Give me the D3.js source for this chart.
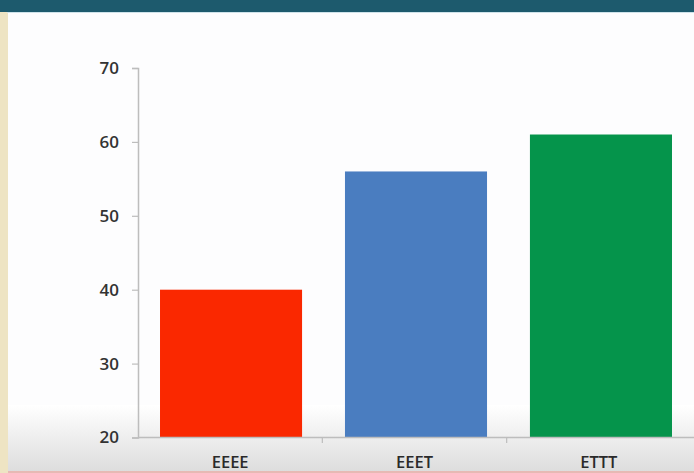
<!DOCTYPE html>
<html><head><meta charset="utf-8">
<script src="https://cdn.jsdelivr.net/npm/d3@7"></script>
<style>html,body{margin:0;padding:0;background:#fff;overflow:hidden}</style>
</head><body>
<script>
const categories = ["EEEE", "EEET", "ETTT"];
const values = [40, 56, 61];
const colors = ["#fa2800", "#4a7dc0", "#05944b"];
const yTicks = [20, 30, 40, 50, 60, 70];

const W = 694, H = 473;
const svg = d3.select("body").append("svg").attr("width", W).attr("height", H);
const defs = svg.append("defs");
const g1 = defs.append("linearGradient").attr("id", "bot").attr("x1", 0).attr("y1", 0).attr("x2", 0).attr("y2", 1);
g1.append("stop").attr("offset", 0).attr("stop-color", "#ffffff");
g1.append("stop").attr("offset", 1).attr("stop-color", "#dcdcdc");

// background
svg.append("rect").attr("x", 0).attr("y", 0).attr("width", W).attr("height", H).attr("fill", "#fdfdfe");
svg.append("rect").attr("x", 0).attr("y", 405).attr("width", W).attr("height", H - 405).attr("fill", "url(#bot)");
svg.append("rect").attr("x", 0).attr("y", 471).attr("width", W).attr("height", 2).attr("fill", "#e7b9b4");
// left parchment strip
svg.append("rect").attr("x", 0).attr("y", 0).attr("width", 8).attr("height", H).attr("fill", "#eee4c3");
// header bar
svg.append("rect").attr("x", 0).attr("y", 0).attr("width", W).attr("height", 12).attr("fill", "#1d5a6d");
svg.append("rect").attr("x", 7).attr("y", 12).attr("width", W).attr("height", 1).attr("fill", "#cfe3ea");

const x = d3.scaleBand().domain(categories).range([138, 694]).paddingInner(0.232).paddingOuter(0.119);
const y = d3.scaleLinear().domain([20, 70]).range([437.5, 68]);

svg.selectAll("rect.bar").data(values).join("rect").attr("class", "bar")
  .attr("x", (d, i) => x(categories[i]))
  .attr("width", x.bandwidth())
  .attr("y", d => y(d))
  .attr("height", d => y(20) - y(d))
  .attr("fill", (d, i) => colors[i]);

const font = "'Open Sans', 'Liberation Sans', sans-serif";

const yAxis = svg.append("g").attr("transform", "translate(138,0)")
  .call(d3.axisLeft(y).tickValues(yTicks).tickSize(6).tickPadding(13).tickFormat(d3.format("d")));
yAxis.select(".domain").attr("stroke", "#bdbdbd").attr("stroke-width", 1.5);
yAxis.selectAll(".tick line").attr("stroke", "#bdbdbd").attr("stroke-width", 1.2);
yAxis.selectAll(".tick text").attr("fill", "#333333").style("font-family", font)
  .style("font-size", "17px").style("font-weight", 600);

const xb = d3.scaleBand().domain(categories).range([138, 691]);
const xAxis = svg.append("g").attr("transform", "translate(0,437.5)")
  .call(d3.axisBottom(xb).tickSize(0).tickPadding(19));
xAxis.select(".domain").remove();
svg.append("line").attr("x1", 138).attr("x2", W).attr("y1", 437.5).attr("y2", 437.5).attr("stroke", "#bdbdbd").attr("stroke-width", 1.5);
svg.selectAll("line.ct").data(categories.slice(1)).join("line").attr("class", "ct")
  .attr("x1", d => xb(d)).attr("x2", d => xb(d)).attr("y1", 437.5).attr("y2", 443)
  .attr("stroke", "#bdbdbd").attr("stroke-width", 1.2);
xAxis.selectAll(".tick text").attr("fill", "#2a2a2a").style("font-family", font)
  .style("font-size", "16.5px").style("font-weight", 600);
</script>
</body></html>
